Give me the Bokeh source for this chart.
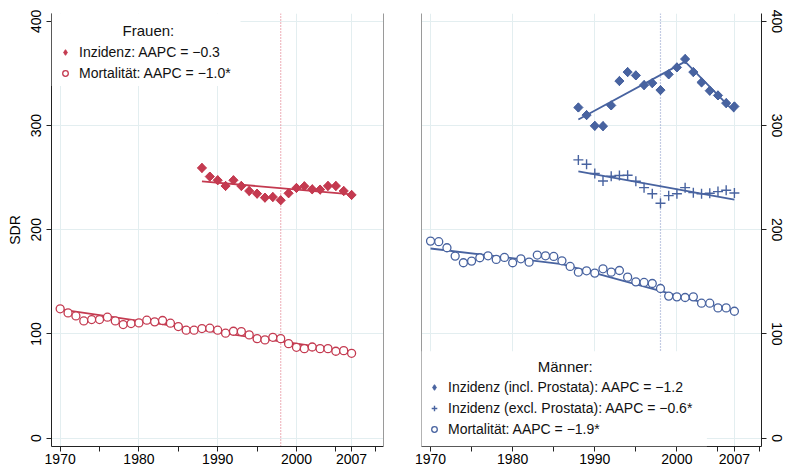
import numpy as np
from bokeh.plotting import figure
from bokeh.layouts import row
from bokeh.models import (Range1d, FixedTicker, LinearAxis, Span, BoxAnnotation,
                          Label, Legend, LegendItem)
from bokeh.embed import file_html
from bokeh.resources import INLINE

# ---------------- data ----------------
years_mort = list(range(1970, 2008))
years_inc = list(range(1988, 2008))
ref_year = 1998

w_inc = [259.3, 251.0, 247.5, 242.0, 247.5, 242.0, 237.2, 234.6, 230.8, 231.4,
         228.3, 235.0, 240.1, 241.7, 238.8, 238.5, 242.0, 242.0, 237.2, 233.4]
w_mort = [124.1, 120.2, 117.3, 112.5, 113.8, 113.8, 116.1, 112.5, 109.0, 110.0,
          110.6, 113.2, 111.6, 112.9, 110.3, 107.1, 103.6, 103.6, 105.2, 105.5,
          103.6, 100.7, 102.6, 102.3, 99.1, 95.5, 94.3, 96.8, 95.5, 90.7,
          87.2, 85.9, 87.5, 85.9, 85.9, 83.4, 84.0, 81.4]
m_inc_incl = [317.3, 310.0, 299.7, 299.4, 319.3, 342.7, 351.3, 348.1, 338.8, 340.7,
              334.0, 349.1, 355.8, 363.8, 351.3, 341.4, 333.4, 328.9, 321.5, 318.3]
m_inc_excl = [267.0, 262.9, 253.9, 246.8, 251.3, 252.0, 252.3, 246.5, 240.4, 234.6,
              225.4, 232.7, 234.6, 240.4, 235.6, 234.6, 235.0, 236.6, 237.9, 235.3]
m_mort = [189.1, 188.5, 182.7, 174.7, 168.3, 169.9, 173.1, 175.0, 171.5, 173.4,
          168.3, 172.1, 168.9, 175.7, 175.0, 174.4, 170.2, 164.8, 159.3, 160.6,
          158.4, 162.5, 159.3, 160.9, 154.5, 150.0, 149.4, 148.4, 143.6, 136.3,
          135.6, 135.0, 135.6, 129.5, 129.5, 125.0, 125.0, 121.8]

# fitted joinpoint trends
w_inc_trend_x = [1988, 2007]
w_inc_trend_y = [246.5, 234.0]
w_mort_trend_x = [1970, 2007]
w_mort_trend_y = [123.5, 83.0]
m_incl_trend_x = [1988, 2001, 2007]
m_incl_trend_y = [305.8, 361.3, 313.2]
m_excl_trend_x = [1988, 2007]
m_excl_trend_y = [256.1, 228.9]
m_mort_trend_x = [1970, 1986, 2007]
m_mort_trend_y = [182.0, 167.0, 122.0]

x_ticks = [1970, 1980, 1990, 2000, 2007]
x_minor_ticks = [1975, 1985, 1995, 2005, 2010]
y_ticks = [0, 100, 200, 300, 400]

lbl_w_inc = "Inzidenz: AAPC = \u22120.3"
lbl_w_mort = "Mortalit\u00e4t: AAPC = \u22121.0*"
lbl_m_incl = "Inzidenz (incl. Prostata): AAPC = \u22121.2"
lbl_m_excl = "Inzidenz (excl. Prostata): AAPC = \u22120.6*"
lbl_m_mort = "Mortalit\u00e4t: AAPC = \u22121.9*"
title_w = "Frauen:"
title_m = "M\u00e4nner:"
y_label = "SDR"

# ---------------- style ----------------
FONT = "Liberation Sans"
RED = "#c43a50"
RED_LIGHT = "#e07585"
BLUE = "#4863a0"
BLUE_LIGHT = "#8798c8"
GRID = "#e3eef0"
AX = "#222222"
BORDER = "#9a9a9a"
H = 466
Y0, Y1 = -8.0, 407.5


def style_axis(ax):
    ax.axis_line_color = AX
    ax.major_tick_line_color = AX
    ax.minor_tick_line_color = AX
    ax.major_tick_out = 5
    ax.major_tick_in = 0
    ax.minor_tick_out = 5
    ax.minor_tick_in = 0
    ax.major_label_text_font = FONT
    ax.major_label_text_font_size = "14px"
    ax.major_label_text_color = "black"


def make_fig(width, yloc, bl, br, x0, x1):
    p = figure(width=width, height=H, x_range=Range1d(x0, x1), y_range=Range1d(Y0, Y1),
               output_backend="svg", toolbar_location=None,
               x_axis_location="below", y_axis_location=yloc,
               min_border_left=bl, min_border_right=br, min_border_top=13,
               min_border_bottom=0)
    p.outline_line_color = None
    p.background_fill_color = "white"
    p.border_fill_color = "white"
    xa = p.xaxis[0]
    xa.ticker = FixedTicker(ticks=x_ticks, minor_ticks=x_minor_ticks)
    style_axis(xa)
    xa.major_label_standoff = 2
    ya = p.yaxis[0]
    ya.ticker = FixedTicker(ticks=y_ticks, minor_ticks=[])
    style_axis(ya)
    ya.minor_tick_line_color = None
    ya.major_label_orientation = "vertical"
    p.xgrid.grid_line_color = GRID
    p.ygrid.grid_line_color = GRID
    p.xgrid.grid_line_width = 1
    p.ygrid.grid_line_width = 1
    # light frame edge on the side without an axis
    bax = LinearAxis(ticker=FixedTicker(ticks=[], minor_ticks=[]),
                     axis_line_color=BORDER, major_tick_line_color=None,
                     minor_tick_line_color=None, major_label_standoff=0)
    p.add_layout(bax, "right" if yloc == "left" else "left")
    return p


def make_legend(p, items, loc):
    lg = Legend(items=items, location=loc, orientation="vertical",
                label_text_font=FONT, label_text_font_size="14px",
                label_text_color="#111111", glyph_width=14, glyph_height=18,
                label_height=18, spacing=3, padding=5, label_standoff=7,
                background_fill_alpha=0, border_line_color=None)
    p.add_layout(lg)


# ---------------- Frauen ----------------
p1 = make_fig(402, "left", 51, 19, 1968.9, 2011.05)
ya1 = p1.yaxis[0]
ya1.major_label_standoff = 5
ya1.axis_label = y_label
ya1.axis_label_text_font = FONT
ya1.axis_label_text_font_size = "14px"
ya1.axis_label_text_font_style = "normal"
ya1.axis_label_text_color = "black"
ya1.axis_label_standoff = 6

p1.add_layout(Span(location=ref_year, dimension="height", line_color=RED_LIGHT,
                   line_dash="1 2", line_width=1.2, level="underlay"))
p1.line(w_inc_trend_x, w_inc_trend_y, line_color=RED, line_width=1.8)
p1.line(w_mort_trend_x, w_mort_trend_y, line_color=RED, line_width=1.8)
# diamond-marker layer (used as legend swatch), covered by the rotated squares
k_wi = p1.scatter(years_inc, w_inc, marker="diamond", size=9, fill_color=RED,
                  line_color=RED, line_width=1)
p1.scatter(years_inc, w_inc, marker="square", angle=np.pi / 4, size=6.5,
           fill_color=RED, line_color=RED, line_width=1)
r_wm = p1.scatter(years_mort, w_mort, marker="circle", size=8, fill_color="white",
                  line_color=RED, line_width=1.3)
p1.add_layout(BoxAnnotation(left=1968.9, right=1992.9, bottom=338, top=Y1,
                            fill_color="white", fill_alpha=1, line_color=None))
p1.add_layout(Label(x=1981.2, y=391, text=title_w, text_align="center",
                    text_baseline="middle", text_font=FONT, text_font_size="15px",
                    text_color="#111111"))
make_legend(p1, [LegendItem(label=lbl_w_inc, renderers=[k_wi]),
                 LegendItem(label=lbl_w_mort, renderers=[r_wm])], (7, 364))

# ---------------- Männer ----------------
p2 = make_fig(382, "right", 19, 15, 1968.9, 2010.3)
p2.yaxis[0].major_label_standoff = 0
p2.add_layout(Span(location=ref_year, dimension="height", line_color=BLUE_LIGHT,
                   line_dash="1 2", line_width=1.2, level="underlay"))
p2.line(m_incl_trend_x, m_incl_trend_y, line_color=BLUE, line_width=1.8)
p2.line(m_excl_trend_x, m_excl_trend_y, line_color=BLUE, line_width=1.8)
p2.line(m_mort_trend_x, m_mort_trend_y, line_color=BLUE, line_width=1.8)
k_mi = p2.scatter(years_inc, m_inc_incl, marker="diamond", size=9, fill_color=BLUE,
                  line_color=BLUE, line_width=1)
p2.scatter(years_inc, m_inc_incl, marker="square", angle=np.pi / 4, size=6.5,
           fill_color=BLUE, line_color=BLUE, line_width=1)
r_me = p2.scatter(years_inc, m_inc_excl, marker="cross", size=10,
                  line_color=BLUE, line_width=1.4)
r_mm = p2.scatter(years_mort, m_mort, marker="circle", size=8, fill_color="white",
                  line_color=BLUE, line_width=1.3)
p2.add_layout(BoxAnnotation(left=1968.9, right=2003.65, bottom=Y0, top=83.4,
                            fill_color="white", fill_alpha=1, line_color=None))
p2.add_layout(Label(x=1986.4, y=69, text=title_m, text_align="center",
                    text_baseline="middle", text_font=FONT, text_font_size="15px",
                    text_color="#111111"))
make_legend(p2, [LegendItem(label=lbl_m_incl, renderers=[k_mi]),
                 LegendItem(label=lbl_m_excl, renderers=[r_me]),
                 LegendItem(label=lbl_m_mort, renderers=[r_mm])], (6, 8))

layout = row(p1, p2)
open("out.html", "w").write(file_html(layout, INLINE))
